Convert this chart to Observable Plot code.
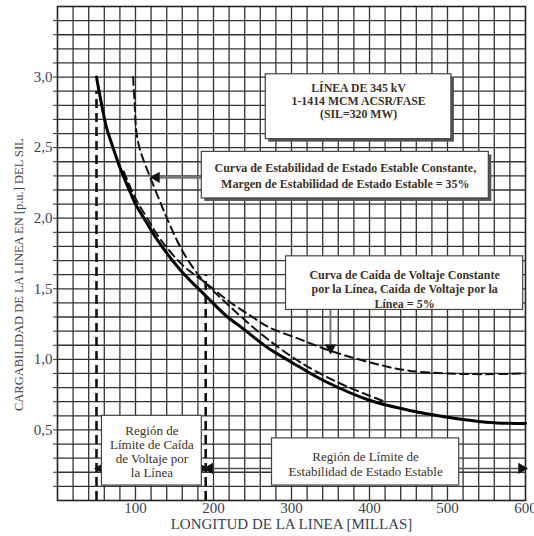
<!DOCTYPE html>
<html>
<head>
<meta charset="utf-8">
<script src="https://cdn.jsdelivr.net/npm/d3@7"></script>
<script src="https://cdn.jsdelivr.net/npm/@observablehq/plot@0.6"></script>
<style>
  html, body { margin: 0; padding: 0; background: #fff; }
</style>
</head>
<body>
<div id="chart"></div>
<script>
// ---- data ----
const stClairMiles = [50, 55, 63, 70, 80, 92, 100, 113, 130, 158, 190, 218, 235, 270, 300, 341, 400, 450, 500, 550, 600];
const stClairLoad  = [3.0, 2.85, 2.64, 2.52, 2.36, 2.2, 2.1, 1.98, 1.83, 1.63, 1.45, 1.30, 1.23, 1.08, 0.98, 0.85, 0.71, 0.64, 0.59, 0.555, 0.545];

const stabilityMiles = [97, 99, 101, 105, 111, 121, 135, 145, 160, 175, 188, 220, 261, 300, 330, 370, 420];
const stabilityLoad  = [3.0, 2.8, 2.62, 2.5, 2.4, 2.26, 2.07, 1.94, 1.77, 1.64, 1.55, 1.38, 1.18, 1.02, 0.92, 0.81, 0.70];

const voltageMiles = [85, 100, 115, 132, 160, 188, 220, 250, 270, 312, 350, 414, 450, 500, 550, 600];
const voltageLoad  = [2.33, 2.14, 2.0, 1.85, 1.67, 1.55, 1.41, 1.30, 1.23, 1.14, 1.06, 0.96, 0.92, 0.90, 0.895, 0.90];

const regionBoundMiles = [50, 190];
const regionBoundTop   = [2.9, 1.6];

const xTickLabels = [100, 200, 300, 400, 500, 600];
const yTickLabels = [0.5, 1.0, 1.5, 2.0, 2.5, 3.0];

const xTitle = "LONGITUD DE LA LINEA [MILLAS]";
const yTitle = "CARGABILIDAD DE LA LINEA EN [p.u.] DEL SIL";

const infoText = ["LÍNEA DE 345 kV", "1-1414 MCM ACSR/FASE", "(SIL=320 MW)"];
const stabilityText = ["Curva de Estabilidad de Estado Estable Constante,", "Margen de Estabilidad de Estado Estable = 35%"];
const voltageText = ["Curva de Caída de Voltaje Constante", "por la Línea, Caída de Voltaje por la", "Línea = 5%"];
const regionVoltageText = ["Región de", "Límite de Caída", "de Voltaje por", "la Línea"];
const regionStabilityText = ["Región de Límite de", "Estabilidad de Estado Estable"];

// annotation placement (data units)
const infoBox = {x1: 267, x2: 505, y1: 2.56, y2: 3.02, cx: 386, cy: 2.83};
const stabBox = {x1: 185, x2: 553, y1: 2.14, y2: 2.47, cx: 369, cy: 2.305};
const voltBox = {x1: 293, x2: 597, y1: 1.35, y2: 1.73, cx: 445, cy: 1.50};
const regVBox = {x1: 57, x2: 185, y1: 0.106, y2: 0.60, cx: 121, cy: 0.347};
const regSBox = {x1: 275, x2: 515, y1: 0.106, y2: 0.44, cx: 395, cy: 0.262};
const stabArrow = {x1: 185, x2: 123, y: 2.29};
const voltArrow = {x: 350, y1: 1.35, y2: 1.06};
const regionArrowY = 0.227;
const yTitleAt = 1.6;

// ---- tables ----
const stClair = stClairMiles.map((m, i) => ({m, v: stClairLoad[i]}));
const stability = stabilityMiles.map((m, i) => ({m, v: stabilityLoad[i]}));
const voltage = voltageMiles.map((m, i) => ({m, v: voltageLoad[i]}));
const bounds = regionBoundMiles.map((m, i) => ({m, top: regionBoundTop[i]}));

const comma = d => d.toFixed(1).replace(".", ",");
const textColor = "#3a3f55";
const boxText = "#3b3128";

const box = (b, shadow) => [
  ...(shadow ? [Plot.rect([b], {x1: "x1", x2: "x2", y1: "y1", y2: "y2", fill: "#555", dx: 3, dy: 3})] : []),
  Plot.rect([b], {x1: "x1", x2: "x2", y1: "y1", y2: "y2", fill: "white", stroke: "#444", strokeWidth: 1.2})
];
const label = (b, lines, opts) => Plot.text([b], {x: "cx", y: "cy", text: () => lines.join("\n"), fill: boxText, fontFamily: "Liberation Serif", lineAnchor: "middle", ...opts});
const head = (x, y, rotate, dx = 0, dy = 0) => Plot.dot([{x, y}], {x: "x", y: "y", symbol: "triangle", r: 4.2, fill: "#111", stroke: "none", rotate, dx, dy});

const chart = Plot.plot({
  width: 534,
  height: 536,
  marginLeft: 57,
  marginRight: 9,
  marginTop: 6,
  marginBottom: 36,
  x: {domain: [0, 600]},
  y: {domain: [0, 3.5]},
  style: {fontFamily: "Liberation Serif", background: "white", overflow: "visible"},
  marks: [
    Plot.gridX(d3.range(1, 30).map(i => i * 20), {stroke: "#333", strokeOpacity: 1, strokeWidth: 1.3}),
    Plot.gridY(d3.range(1, 35).map(i => i / 10), {stroke: "#333", strokeOpacity: 1, strokeWidth: 1.3}),
    Plot.frame({stroke: "#222", strokeWidth: 1.6}),
    Plot.axisY(d3.range(1, 35).map(i => i / 10), {tickSize: 4, tickFormat: () => "", stroke: "#333", label: null}),
    Plot.axisY(yTickLabels, {tickSize: 0, tickPadding: 5, tickFormat: comma, fontSize: 15, fill: textColor, label: null}),
    Plot.axisX(xTickLabels, {tickSize: 0, tickPadding: 2, fontSize: 15, fill: textColor, label: null}),
    Plot.text([yTitle], {frameAnchor: "left", y: () => yTitleAt, text: d => d, rotate: -90, dx: -39, fontSize: 12.5, fill: textColor, textAnchor: "middle", lineAnchor: "middle"}),
    Plot.text([xTitle], {frameAnchor: "bottom", text: d => d, dy: 24, fontSize: 15, fill: textColor, textAnchor: "middle", lineAnchor: "middle"}),

    // region arrows (beneath boxes)
    Plot.link([{x1: regionBoundMiles[0], x2: regionBoundMiles[1]}], {x1: "x1", x2: "x2", y1: () => regionArrowY, y2: () => regionArrowY, stroke: "#555", strokeWidth: 1.5}),
    Plot.link([{x1: regionBoundMiles[1], x2: 600}], {x1: "x1", x2: "x2", y1: () => regionArrowY, y2: () => regionArrowY, stroke: "#555", strokeWidth: 1.5}),
    head(regionBoundMiles[0], regionArrowY, -90, 4),
    head(regionBoundMiles[1], regionArrowY, 90, -4),
    head(regionBoundMiles[1], regionArrowY, -90, 4),
    head(600, regionArrowY, 90, -4),

    // boundary verticals
    Plot.ruleX(bounds, {x: "m", y1: 0, y2: "top", stroke: "#111", strokeWidth: 2.6, strokeDasharray: "9,5"}),

    // curves
    Plot.line(voltage, {x: "m", y: "v", curve: "catmull-rom", stroke: "#111", strokeWidth: 2, strokeDasharray: "8,5"}),
    Plot.line(stability, {x: "m", y: "v", curve: "catmull-rom", stroke: "#111", strokeWidth: 2, strokeDasharray: "8,5"}),
    Plot.line(stClair, {x: "m", y: "v", curve: "catmull-rom", stroke: "#000", strokeWidth: 3}),

    // arrows from boxes
    Plot.link([stabArrow], {x1: "x1", x2: "x2", y1: "y", y2: "y", stroke: "#777", strokeWidth: 3}),
    head(stabArrow.x2, stabArrow.y, -90, 3),
    Plot.link([voltArrow], {x1: "x", x2: "x", y1: "y1", y2: "y2", stroke: "#777", strokeWidth: 2}),
    head(voltArrow.x, voltArrow.y2, 180, 0, -3),

    // boxes
    ...box(infoBox, true),
    label(infoBox, infoText, {fontSize: 11.8, fontWeight: "bold", lineHeight: 1.08}),
    ...box(stabBox, true),
    label(stabBox, stabilityText, {fontSize: 12, fontWeight: "bold", lineHeight: 1.33}),
    ...box(voltBox, false),
    label(voltBox, voltageText, {fontSize: 12, fontWeight: "bold", lineHeight: 1.2}),
    ...box(regVBox, false),
    label(regVBox, regionVoltageText, {fontSize: 13, lineHeight: 1.08}),
    ...box(regSBox, false),
    label(regSBox, regionStabilityText, {fontSize: 13, lineHeight: 1.15})
  ]
});
document.getElementById("chart").appendChild(chart);
</script>
</body>
</html>
